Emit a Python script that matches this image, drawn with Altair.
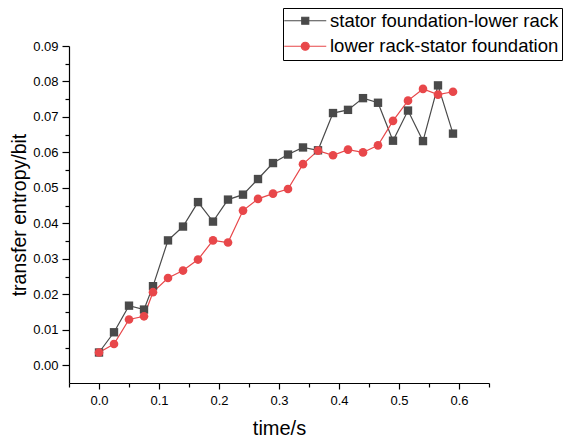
import altair as alt
import pandas as pd

time_s = [0.0, 0.025, 0.05, 0.075, 0.09, 0.115, 0.14, 0.165, 0.19, 0.215, 0.24, 0.265, 0.29,
          0.315, 0.34, 0.365, 0.39, 0.415, 0.44, 0.465, 0.49, 0.515, 0.54, 0.565, 0.59]
stator_lower = [0.0036, 0.0093, 0.0168, 0.0157, 0.0223, 0.0352, 0.0391, 0.0460, 0.0405, 0.0467,
                0.0481, 0.0525, 0.0570, 0.0594, 0.0614, 0.0606, 0.0711, 0.0720, 0.0753, 0.0740,
                0.0633, 0.0718, 0.0632, 0.0789, 0.0653]
lower_stator = [0.0036, 0.0060, 0.0129, 0.0138, 0.0206, 0.0246, 0.0267, 0.0298, 0.0352, 0.0346,
                0.0436, 0.0469, 0.0484, 0.0497, 0.0567, 0.0605, 0.0592, 0.0608, 0.0600, 0.0620,
                0.0689, 0.0746, 0.0779, 0.0763, 0.0771]
series_names = ["stator foundation-lower rack", "lower rack-stator foundation"]
series_colors = ["#4a4a4a", "#e8474a"]
x_ticks = [round(-0.05 + 0.05 * i, 2) for i in range(15)]
y_ticks = [round(0.005 * i, 3) for i in range(19)]

rows = []
for t, a, b in zip(time_s, stator_lower, lower_stator):
    rows.append({"time": t, "te": a, "series": series_names[0]})
    rows.append({"time": t, "te": b, "series": series_names[1]})
df = pd.DataFrame(rows)

FONT = "Liberation Sans"

x_major = "abs(datum.value*10 - round(datum.value*10)) < 0.001"
y_major = "abs(datum.value*100 - round(datum.value*100)) < 0.001"

x_enc = alt.X(
    "time:Q",
    scale=alt.Scale(domain=[-0.05, 0.65], nice=False, zero=False),
    axis=alt.Axis(
        title="time/s", values=x_ticks, grid=False,
        labelExpr=f"{x_major} && datum.value > -0.01 ? format(datum.value, '.1f') : ''",
        tickSize={"condition": {"test": x_major, "value": 6}, "value": 4},
        labelFontSize=13, labelPadding=5, titleFontSize=20, titlePadding=11,
        labelFlush=False,
    ),
)
y_enc = alt.Y(
    "te:Q",
    scale=alt.Scale(domain=[-0.005, 0.09], nice=False, zero=False),
    axis=alt.Axis(
        title="transfer entropy/bit", values=y_ticks, grid=False,
        labelExpr=f"{y_major} ? format(datum.value, '.2f') : ''",
        tickSize={"condition": {"test": y_major, "value": 7}, "value": 4},
        labelFontSize=13, labelPadding=4, titleFontSize=19.5, titlePadding=3,
        labelFlush=False,
    ),
)

sq_path = "M-2.3,0H6.1M1.2,-0.7H2.6V0.7H1.2Z"
ci_path = "M-2.3,0H6.1M1.1,0A0.8,0.8,0,1,1,2.7,0A0.8,0.8,0,1,1,1.1,0Z"

color_scale = alt.Scale(domain=series_names, range=series_colors)

legend = alt.Legend(
    title=None, orient="none", legendX=214, legendY=-38,
    strokeColor="black", padding=3.5, labelFontSize=18.5, labelFont=FONT,
    labelOffset=25, rowPadding=6.5, symbolSize=100, labelColor="black",
    labelLimit=500, symbolStrokeWidth=1.2, symbolOpacity=1,
    symbolType={"expr": f"datum.value === '{series_names[0]}' ? '{sq_path}' : '{ci_path}'"},
    symbolFillColor={"expr": "scale('color', datum.value)"},
)

base = alt.Chart(df)
lines = base.mark_line(strokeWidth=1.2).encode(
    x=x_enc, y=y_enc,
    color=alt.Color("series:N", scale=color_scale, legend=legend),
    detail="series:N",
)
squares = base.transform_filter(alt.datum.series == series_names[0]).mark_point(
    filled=True, size=70, opacity=1, shape="square"
).encode(
    x=x_enc, y=y_enc,
    color=alt.Color("series:N", scale=color_scale, legend=None),
)
circles = base.transform_filter(alt.datum.series == series_names[1]).mark_point(
    filled=True, size=75, opacity=1, shape="circle"
).encode(
    x=x_enc, y=y_enc,
    color=alt.Color("series:N", scale=color_scale, legend=None),
)

chart = alt.layer(lines, squares, circles).properties(
    width=420, height=337,
    padding={"left": 61, "top": 38, "right": 74, "bottom": 58},
    autosize=alt.AutoSizeParams(type="none"),
).configure_view(stroke=None).configure_axis(
    domainColor="black", domainWidth=1.2, tickColor="black", tickWidth=1.2,
    labelColor="black", titleColor="black", labelFont=FONT, titleFont=FONT,
    titleFontWeight="normal",
).configure_legend(labelFont=FONT)

chart.save("out.html", embed_options={"renderer": "svg", "actions": False})
